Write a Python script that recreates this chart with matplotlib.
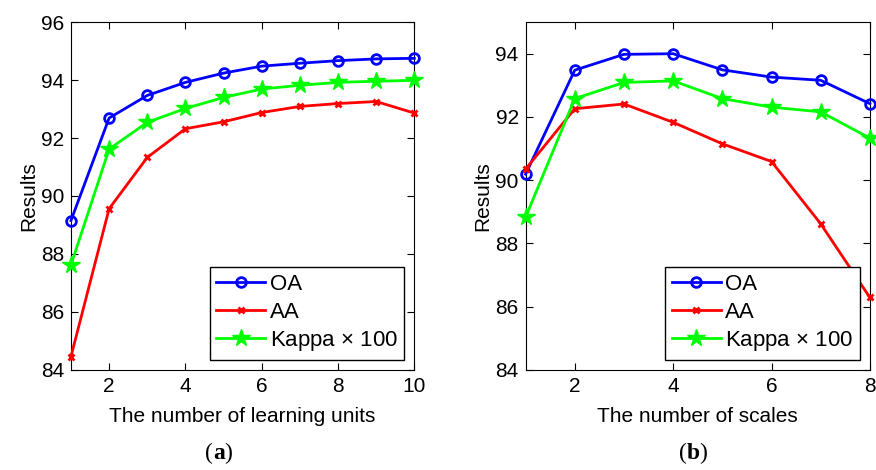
import numpy as np
import matplotlib.pyplot as plt

plt.rcParams['font.family'] = ['Liberation Sans', 'DejaVu Sans']
plt.rcParams['mathtext.fontset'] = 'custom'
plt.rcParams['mathtext.rm'] = 'Liberation Sans'

# (a) learning units
units = [1, 2, 3, 4, 5, 6, 7, 8, 9, 10]
oa_a = [89.15, 92.69, 93.47, 93.92, 94.24, 94.48, 94.58, 94.67, 94.73, 94.75]
aa_a = [84.46, 89.56, 91.33, 92.32, 92.56, 92.88, 93.09, 93.19, 93.26, 92.86]
kappa_a = [87.62, 91.62, 92.54, 93.02, 93.40, 93.69, 93.82, 93.92, 93.96, 93.99]

# (b) scales
scales = [1, 2, 3, 4, 5, 6, 7, 8]
oa_b = [90.19, 93.48, 93.98, 94.00, 93.49, 93.26, 93.16, 92.42]
aa_b = [90.35, 92.26, 92.41, 91.83, 91.15, 90.59, 88.62, 86.29]
kappa_b = [88.83, 92.58, 93.09, 93.14, 92.58, 92.31, 92.16, 91.33]

fig = plt.figure(figsize=(8.76, 4.7), dpi=100)
ax1 = fig.add_axes([0.081, 0.213, 0.392, 0.740])
ax2 = fig.add_axes([0.600, 0.213, 0.393, 0.740])


def draw(ax, x, oa, aa, kappa, xlabel, xticks, ylim, yticks):
    ax.plot(x, oa, color=(0, 0, 1), lw=2, marker='o', ms=7, mfc='none',
            mew=2, label='OA', clip_on=False, zorder=3)
    ax.plot(x, aa, color=(1, 0, 0), lw=2, marker='x', ms=5, mew=2,
            label='AA', clip_on=False, zorder=3)
    ax.plot(x, kappa, color=(0, 1, 0), lw=2, marker='*', ms=13,
            label=r'Kappa $\times$ 100', clip_on=False, zorder=3)
    ax.set_xlim(x[0], x[-1])
    ax.set_ylim(*ylim)
    ax.set_xticks(xticks)
    ax.set_yticks(yticks)
    ax.tick_params(direction='in', top=True, right=True, labelsize=15,
                   length=5, width=0.8, pad=5)
    ax.set_xlabel(xlabel, fontsize=15, labelpad=8)
    ax.set_ylabel('Results', fontsize=15, labelpad=2)
    for s in ax.spines.values():
        s.set_linewidth(0.8)
    leg = ax.legend(loc='lower right', fontsize=16, fancybox=False,
                    edgecolor='black', framealpha=1, handlelength=2.2,
                    borderpad=0.3, labelspacing=0.3, handletextpad=0.2,
                    borderaxespad=0.45)
    leg.get_frame().set_linewidth(1.0)


draw(ax1, units, oa_a, aa_a, kappa_a, 'The number of learning units',
     [2, 4, 6, 8, 10], (84, 96), [84, 86, 88, 90, 92, 94, 96])
draw(ax2, scales, oa_b, aa_b, kappa_b, 'The number of scales',
     [2, 4, 6, 8], (84, 95), [84, 86, 88, 90, 92, 94])

fig.text(0.243, 0.036, '(', family='Liberation Serif', fontsize=17, ha='right', va='center')
fig.text(0.243, 0.036, 'a', family='Liberation Serif', fontsize=17, weight='bold', ha='left', va='center')
fig.text(0.256, 0.036, ')', family='Liberation Serif', fontsize=17, ha='left', va='center')
fig.text(0.784, 0.036, '(', family='Liberation Serif', fontsize=17, ha='right', va='center')
fig.text(0.784, 0.036, 'b', family='Liberation Serif', fontsize=17, weight='bold', ha='left', va='center')
fig.text(0.798, 0.036, ')', family='Liberation Serif', fontsize=17, ha='left', va='center')

fig.savefig('out.png', dpi=100)
